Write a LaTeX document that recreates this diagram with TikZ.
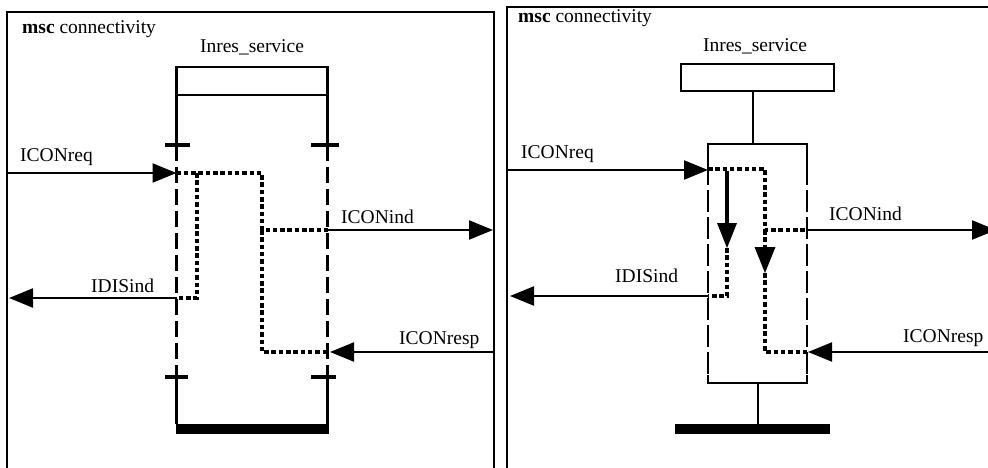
\documentclass[tikz,border=0pt]{standalone}
\usepackage{fontspec}
\setmainfont{Liberation Serif}
\usetikzlibrary{arrows.meta}
\tikzset{
  frame/.style={line width=2pt},
  life/.style={line width=2.2pt},
  lifedash/.style={line width=2.2pt, dash pattern=on 16pt off 6pt},
  rectdash/.style={line width=2.2pt, dash pattern=on 22pt off 5pt},
  msg/.style={line width=2.2pt, -{Triangle[length=24pt,width=19pt]}},
  dots/.style={line width=4.5pt, dash pattern=on 4.5pt off 2.8pt},
  tickmark/.style={line width=4.5pt},
  hbar/.style={fill=black, draw=none, inner sep=0pt},
  lbl/.style={font=\fontsize{19.5}{22}\selectfont, inner sep=0pt, anchor=base west},
  ibox/.style={draw, line width=2.2pt, inner sep=0pt},
}
\begin{document}
\begin{tikzpicture}[x=1pt,y=-1pt]
\useasboundingbox (0,0) rectangle (988,468);
% ================= LEFT =================
\draw[frame] (7,475) -- (7,12) -- (494,12) -- (494,475);
\node[lbl] (titleL) at (22,34) {\textbf{msc} connectivity};
\node[lbl, anchor=base] (nameL) at (252,53) {Inres\_service};
\node[ibox, minimum width=151pt, minimum height=28pt] (boxL) at (252,81) {};
\node[hbar, minimum width=153pt, minimum height=10pt] (barL) at (252,429) {};
% lifeline coordinates
\coordinate (a1) at (176.5,95);  \coordinate (a2) at (176.5,145);
\coordinate (a3) at (176.5,377); \coordinate (a4) at (176.5,424);
\coordinate (b1) at (327.5,95);  \coordinate (b2) at (327.5,145);
\coordinate (b3) at (327.5,377); \coordinate (b4) at (327.5,424);
\draw[life] (a1) -- (a2);
\draw[lifedash] (a2) -- (a3);
\draw[life] (a3) -- (a4);
\draw[life] (b1) -- (b2);
\draw[lifedash] (b2) -- (b3);
\draw[life] (b3) -- (b4);
% ticks
\coordinate (ta1) at (165,145); \coordinate (ta2) at (190,145);
\coordinate (tb1) at (311,145); \coordinate (tb2) at (339,145);
\coordinate (tc1) at (165,377); \coordinate (tc2) at (188,377);
\coordinate (td1) at (311,377); \coordinate (td2) at (336,377);
\draw[tickmark] (ta1) -- (ta2);
\draw[tickmark] (tb1) -- (tb2);
\draw[tickmark] (tc1) -- (tc2);
\draw[tickmark] (td1) -- (td2);
% message points
\coordinate (envL1) at (7,173);   \coordinate (pL1) at (176.5,173);
\coordinate (pL2) at (327.5,230); \coordinate (envL2) at (493,230);
\coordinate (pL3) at (176.5,298); \coordinate (envL3) at (9,298);
\coordinate (envL4) at (494,352); \coordinate (pL4) at (330,352);
\coordinate (pL4b) at (327.5,352);
\draw[msg] (envL1) -- (pL1);
\draw[msg] (pL2) -- (envL2);
\draw[msg] (pL3) -- (envL3);
\draw[msg] (envL4) -- (pL4);
\node[lbl] (mL1) at (20,161) {ICONreq};
\node[lbl] (mL2) at (341,223) {ICONind};
\node[lbl] (mL3) at (91,292) {IDISind};
\node[lbl] (mL4) at (399,344) {ICONresp};
% dotted flows
\coordinate (qL1) at (262,173); \coordinate (qL2) at (262,230);
\coordinate (qL3) at (262,352);
\coordinate (rL1) at (197,173); \coordinate (rL2) at (197,298);
\draw[dots] (pL1) -- (qL1) -- (qL2) -- (pL2);
\draw[dots] (qL2) -- (qL3) -- (pL4b);
\draw[dots] (rL1) -- (rL2) -- (pL3);
% ================= RIGHT =================
\draw[frame] (507,475) -- (507,7) -- (995,7);
\node[lbl] (titleR) at (518,23) {\textbf{msc} connectivity};
\node[lbl, anchor=base] (nameR) at (755,52) {Inres\_service};
\node[ibox, minimum width=153pt, minimum height=27pt] (boxR) at (757.5,77.5) {};
\node[hbar, minimum width=155pt, minimum height=10pt] (barR) at (752.5,429) {};
\coordinate (cR1) at (753,144);
\draw[life] (boxR.south -| cR1) -- (cR1);
% process region
\coordinate (pr1) at (708,144); \coordinate (pr2) at (807,144);
\coordinate (pr3) at (708,383); \coordinate (pr4) at (807,383);
\coordinate (pr1b) at (708,163); \coordinate (pr2b) at (807,163);
\coordinate (pr3b) at (708,375); \coordinate (pr4b) at (807,375);
\draw[life] (pr1b) -- (pr1) -- (pr2) -- (pr2b);
\draw[life] (pr3b) -- (pr3) -- (pr4) -- (pr4b);
\draw[rectdash] (pr1b) -- (pr3b);
\draw[rectdash] (pr2b) -- (pr4b);
\coordinate (cR2) at (758,383); \coordinate (cR3) at (758,424);
\draw[life] (cR2) -- (cR3);
% messages
\coordinate (envR1) at (507,170); \coordinate (pR1) at (708,170);
\coordinate (pR2) at (807,230);   \coordinate (envR2) at (996,230);
\coordinate (pR3) at (708,296);   \coordinate (envR3) at (510,296);
\coordinate (envR4) at (995,352); \coordinate (pR4) at (808,352);
\coordinate (pR4b) at (807,352);
\draw[msg] (envR1) -- (pR1);
\draw[msg] (pR2) -- (envR2);
\draw[msg] (pR3) -- (envR3);
\draw[msg] (envR4) -- (pR4);
\node[lbl] (mR1) at (521,159) {ICONreq};
\node[lbl] (mR2) at (829,220) {ICONind};
\node[lbl] (mR3) at (615,282) {IDISind};
\node[lbl] (mR4) at (903,342) {ICONresp};
% flows
\coordinate (qR1) at (765,169); \coordinate (qR2) at (765,230);
\coordinate (qR3) at (765,247); \coordinate (qR4) at (765,273);
\coordinate (qR5) at (765,352);
\coordinate (sR0) at (708,169);
\draw[dots] (sR0) -- (qR1) -- (qR2) -- (pR2);
\draw[dots] (qR2) -- (qR3);
\draw[line width=0pt, -{Triangle[length=26pt,width=21pt]}] (qR3) -- (qR4);
\draw[dots] (qR4) -- (qR5) -- (pR4b);
\coordinate (uR1) at (727,171); \coordinate (uR2) at (727,225);
\coordinate (uR3) at (727,248); \coordinate (uR4) at (727,296);
\draw[line width=4.5pt] (uR1) -- (uR2);
\draw[line width=0pt, -{Triangle[length=25pt,width=20pt]}] (uR2) -- (uR3);
\draw[dots] (uR3) -- (uR4) -- (pR3);
\end{tikzpicture}
\end{document}
